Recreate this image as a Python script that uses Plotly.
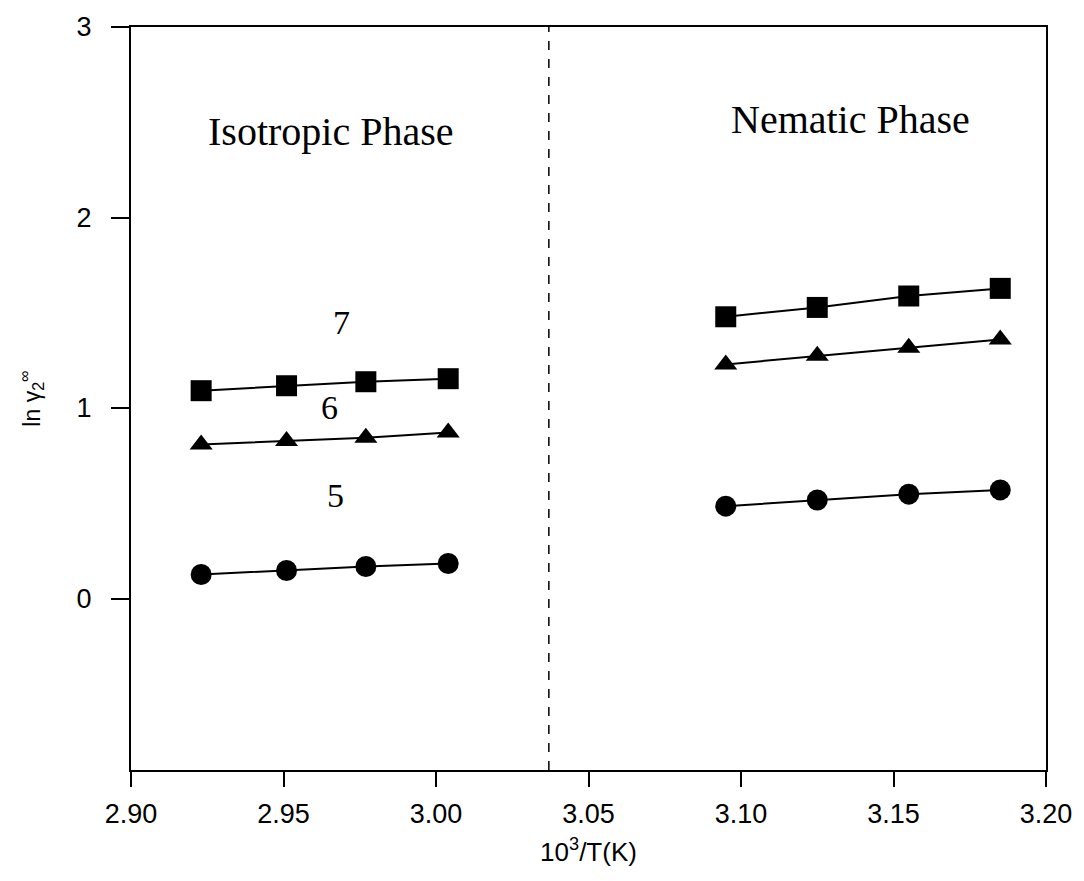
import plotly.graph_objects as go

# Data
x_iso = [2.923, 2.951, 2.977, 3.004]
x_nem = [3.095, 3.125, 3.155, 3.185]

sq_iso = [1.091, 1.117, 1.138, 1.154]
tri_iso = [0.809, 0.827, 0.844, 0.871]
cir_iso = [0.126, 0.147, 0.168, 0.184]

sq_nem = [1.479, 1.528, 1.588, 1.628]
tri_nem = [1.229, 1.274, 1.316, 1.360]
cir_nem = [0.485, 0.517, 0.548, 0.570]

transition_x = 3.037

x_ticks = [2.90, 2.95, 3.00, 3.05, 3.10, 3.15, 3.20]
x_tick_text = ["2.90", "2.95", "3.00", "3.05", "3.10", "3.15", "3.20"]
y_ticks = [0, 1, 2, 3]

series = [
    (x_iso, sq_iso, "square", 21),
    (x_iso, tri_iso, "triangle-up", 20),
    (x_iso, cir_iso, "circle", 21),
    (x_nem, sq_nem, "square", 21),
    (x_nem, tri_nem, "triangle-up", 20),
    (x_nem, cir_nem, "circle", 21),
]

fig = go.Figure()
for xs, ys, sym, sz in series:
    fig.add_trace(go.Scatter(
        x=xs, y=ys, mode="lines+markers",
        line=dict(color="black", width=2),
        marker=dict(symbol=sym, size=sz, color="black"),
        showlegend=False, hoverinfo="skip",
    ))

fig.add_shape(type="line", xref="x", yref="paper",
              x0=transition_x, x1=transition_x, y0=0, y1=1,
              line=dict(color="black", width=1.5, dash="dash"))

serif = "Liberation Serif, Times New Roman, serif"
annots = [
    (2.9655, 2.45, "Isotropic Phase", 40),
    (3.1358, 2.515, "Nematic Phase", 40),
    (2.969, 1.45, "7", 34),
    (2.965, 1.005, "6", 34),
    (2.967, 0.54, "5", 34),
]
for ax_, ay_, t, fs in annots:
    fig.add_annotation(x=ax_, y=ay_, text=t, showarrow=False,
                       font=dict(family=serif, size=fs, color="black"))

fig.update_layout(
    width=1084, height=881,
    margin=dict(l=131, r=36, t=24, b=111),
    paper_bgcolor="white", plot_bgcolor="white",
    font=dict(family="Liberation Sans, Arial, sans-serif", color="black"),
)
fig.update_xaxes(
    range=[2.90, 3.20], tickvals=x_ticks, ticktext=x_tick_text,
    showgrid=False, zeroline=False,
    showline=True, linecolor="black", linewidth=2, mirror=True,
    ticks="outside", ticklen=15, tickwidth=2, tickcolor="black",
    tickfont=dict(size=27), ticklabelstandoff=4,
    title=dict(text="10<sup>3</sup>/T(K)", font=dict(size=26), standoff=14),
)
fig.update_yaxes(
    range=[-0.9, 3], tickvals=y_ticks,
    showgrid=False, zeroline=False,
    showline=True, linecolor="black", linewidth=2, mirror=True,
    ticks="outside", ticklen=18, tickwidth=2, tickcolor="black",
    tickfont=dict(size=27), ticklabelstandoff=14,
    title=dict(text="ln γ<sub>2</sub><sup>∞</sup>", font=dict(size=23), standoff=30),
)

fig.write_html("out.html")
